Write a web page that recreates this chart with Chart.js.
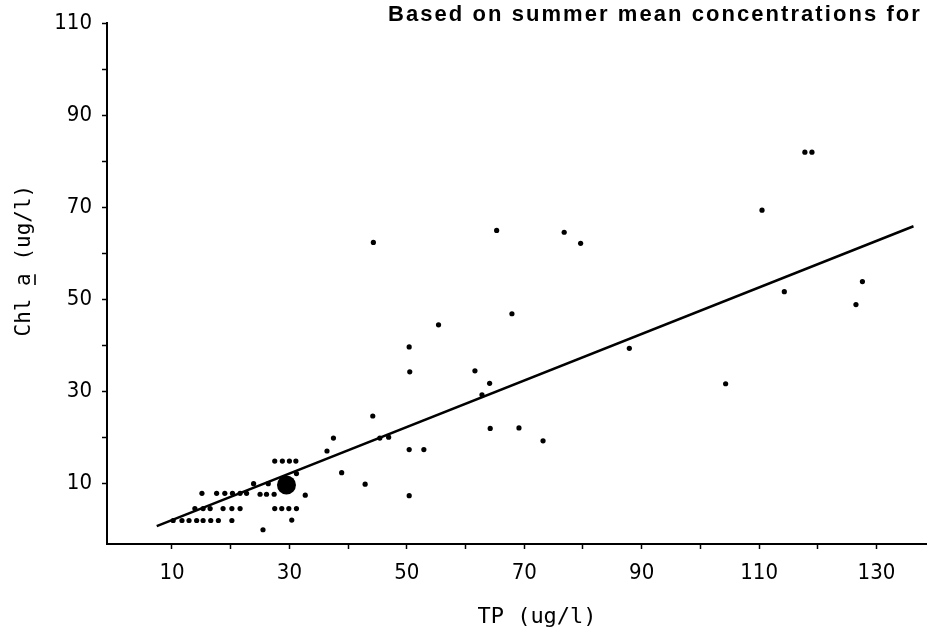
<!DOCTYPE html>
<html>
<head>
<meta charset="utf-8">
<script src="https://cdn.jsdelivr.net/npm/chart.js@4.4.1/dist/chart.umd.min.js"></script>
<style>
  html, body { margin: 0; padding: 0; background: #fff; }
  #wrap { position: relative; width: 927px; height: 637px; }
</style>
</head>
<body>
<div id="wrap"><canvas id="c"></canvas></div>
<script>
// ---- data ----
const tpValues = [
  10.2, 11.7, 12.9, 14.2, 15.3, 16.6, 17.9, 20.2,
  13.9, 15.3, 16.5, 18.7, 20.2, 21.6,
  15.1, 17.6, 19.0, 20.3, 21.6, 22.7,
  23.9, 26.4,
  25.0, 26.1, 27.4,
  27.5, 28.7, 29.9, 31.2,
  27.5, 28.8, 30.0, 31.1,
  31.2, 32.7, 30.4, 25.5,
  36.4, 37.5, 38.9,
  42.9, 44.2, 44.3, 45.4, 46.9,
  50.4, 50.5, 50.4, 52.9, 50.4,
  55.4, 61.6, 64.1, 62.8, 64.2, 65.3, 67.9, 69.1, 73.2,
  76.8, 79.6, 87.9, 104.3, 110.5, 114.3, 117.8, 119.0, 126.5, 127.6
];
const chlValues = [
  2.0, 2.0, 2.0, 2.0, 2.0, 2.0, 2.0, 2.0,
  4.6, 4.6, 4.6, 4.6, 4.6, 4.6,
  7.9, 7.9, 7.9, 7.9, 7.9, 7.9,
  10.0, 10.0,
  7.7, 7.7, 7.7,
  4.6, 4.6, 4.6, 4.6,
  14.9, 14.9, 14.9, 14.9,
  12.2, 7.5, 2.1, 0.0,
  17.1, 19.9, 12.4,
  9.9, 24.7, 62.4, 19.9, 20.1,
  39.7, 34.3, 17.4, 17.4, 7.4,
  44.5, 34.5, 31.8, 29.3, 22.0, 65.0, 46.9, 22.1, 19.3,
  64.6, 62.2, 39.4, 31.7, 69.4, 51.7, 82.0, 82.0, 48.9, 53.9
];
const meanTp = [29.5];
const meanChl = [9.7];
const fitTp = [7.4, 136.3];
const fitChl = [0.8, 65.9];
const xTickValues = [10, 20, 30, 40, 50, 60, 70, 80, 90, 100, 110, 120, 130];
const xTickLabels = [10, 30, 50, 70, 90, 110, 130];
const yTickValues = [10, 20, 30, 40, 50, 60, 70, 80, 90, 100, 110];
const yTickLabels = [10, 30, 50, 70, 90, 110];
const xTitle = 'TP (ug/l)';
const yTitlePre = 'Chl ';
const yTitleUnderlined = 'a';
const yTitlePost = ' (ug/l)';
const headerText = 'Based on summer mean concentrations for';

// ---- build ----
const toPts = (xs, ys) => xs.map((x, i) => ({ x: x, y: ys[i] }));
const typeFont = "'Liberation Sans Narrow', 'DejaVu Sans Condensed', 'DejaVu Sans', sans-serif";
const monoFont = "'DejaVu Sans Mono', 'Liberation Mono', monospace";

const annotations = {
  id: 'annotations',
  afterDraw(chart) {
    const ctx = chart.ctx;
    const area = chart.chartArea;

    // y axis title (with underlined "a")
    ctx.save();
    ctx.fillStyle = '#000';
    ctx.strokeStyle = '#000';
    ctx.font = "21px " + monoFont;
    ctx.translate(25, (area.top + area.bottom) / 2 - 23);
    ctx.rotate(-Math.PI / 2);
    const full = yTitlePre + yTitleUnderlined + yTitlePost;
    const fw = ctx.measureText(full).width;
    const preW = ctx.measureText(yTitlePre).width;
    const aW = ctx.measureText(yTitleUnderlined).width;
    ctx.textAlign = 'left';
    ctx.textBaseline = 'middle';
    const x0 = -fw / 2;
    ctx.fillText(full, x0, 0);
    ctx.lineWidth = 1.6;
    ctx.beginPath();
    ctx.moveTo(x0 + preW + 1, 10);
    ctx.lineTo(x0 + preW + aW - 1, 10);
    ctx.stroke();
    ctx.restore();

    // x axis title
    ctx.save();
    ctx.fillStyle = '#000';
    ctx.font = "22px " + monoFont;
    ctx.textAlign = 'center';
    ctx.textBaseline = 'middle';
    ctx.fillText(xTitle, (area.left + area.right) / 2 + 20, 617);
    ctx.restore();

    // header text
    ctx.save();
    ctx.fillStyle = '#000';
    ctx.font = "bold 22px 'Liberation Sans', Arial, sans-serif";
    const w = ctx.measureText(headerText).width;
    const targetW = 532;
    const sp = (targetW - w) / (headerText.length - 1);
    if ('letterSpacing' in ctx) ctx.letterSpacing = sp.toFixed(2) + 'px';
    ctx.textAlign = 'left';
    ctx.textBaseline = 'alphabetic';
    ctx.fillText(headerText, 388, 21);
    ctx.restore();
  }
};

new Chart(document.getElementById('c'), {
  type: 'scatter',
  data: {
    datasets: [
      {
        label: 'fit',
        type: 'line',
        data: toPts(fitTp, fitChl),
        borderColor: '#000',
        borderWidth: 2.5,
        pointRadius: 0,
        fill: false,
        order: 2
      },
      {
        label: 'lakes',
        data: toPts(tpValues, chlValues),
        backgroundColor: '#000',
        borderColor: '#000',
        borderWidth: 0,
        pointRadius: 2.6,
        order: 1
      },
      {
        label: 'mean',
        data: toPts(meanTp, meanChl),
        backgroundColor: '#000',
        borderColor: '#000',
        borderWidth: 0,
        pointRadius: 9.5,
        order: 0
      }
    ]
  },
  options: {
    responsive: true,
    maintainAspectRatio: false,
    animation: false,
    layout: { autoPadding: false, padding: { top: 21.7, right: 0, left: 0, bottom: 0 } },
    plugins: {
      legend: { display: false },
      tooltip: { enabled: false },
      title: { display: false }
    },
    scales: {
      x: {
        type: 'linear',
        position: 'bottom',
        min: -1.07,
        max: 138.6,
        afterBuildTicks: s => { s.ticks = xTickValues.map(v => ({ value: v })); },
        afterFit: s => { s.height = 93; },
        grid: { display: true, drawOnChartArea: false, drawTicks: true, tickLength: 5, tickWidth: 1.5, tickColor: '#000' },
        border: { display: true, color: '#000', width: 2 },
        ticks: {
          color: '#000',
          font: { family: typeFont, size: 22 },
          padding: 11,
          maxRotation: 0,
          autoSkip: false,
          callback: v => xTickLabels.includes(v) ? String(v) : ''
        },
        title: { display: false }
      },
      y: {
        type: 'linear',
        position: 'left',
        min: -3.1,
        max: 110,
        afterBuildTicks: s => { s.ticks = yTickValues.map(v => ({ value: v })); },
        afterFit: s => { s.width = 107; },
        grid: { display: true, drawOnChartArea: false, drawTicks: true, tickLength: 5, tickWidth: 1.5, tickColor: '#000' },
        border: { display: true, color: '#000', width: 2 },
        ticks: {
          color: '#000',
          font: { family: typeFont, size: 22 },
          padding: 10,
          autoSkip: false,
          callback: v => yTickLabels.includes(v) ? String(v) : ''
        },
        title: { display: false }
      }
    }
  },
  plugins: [annotations]
});
</script>
</body>
</html>
